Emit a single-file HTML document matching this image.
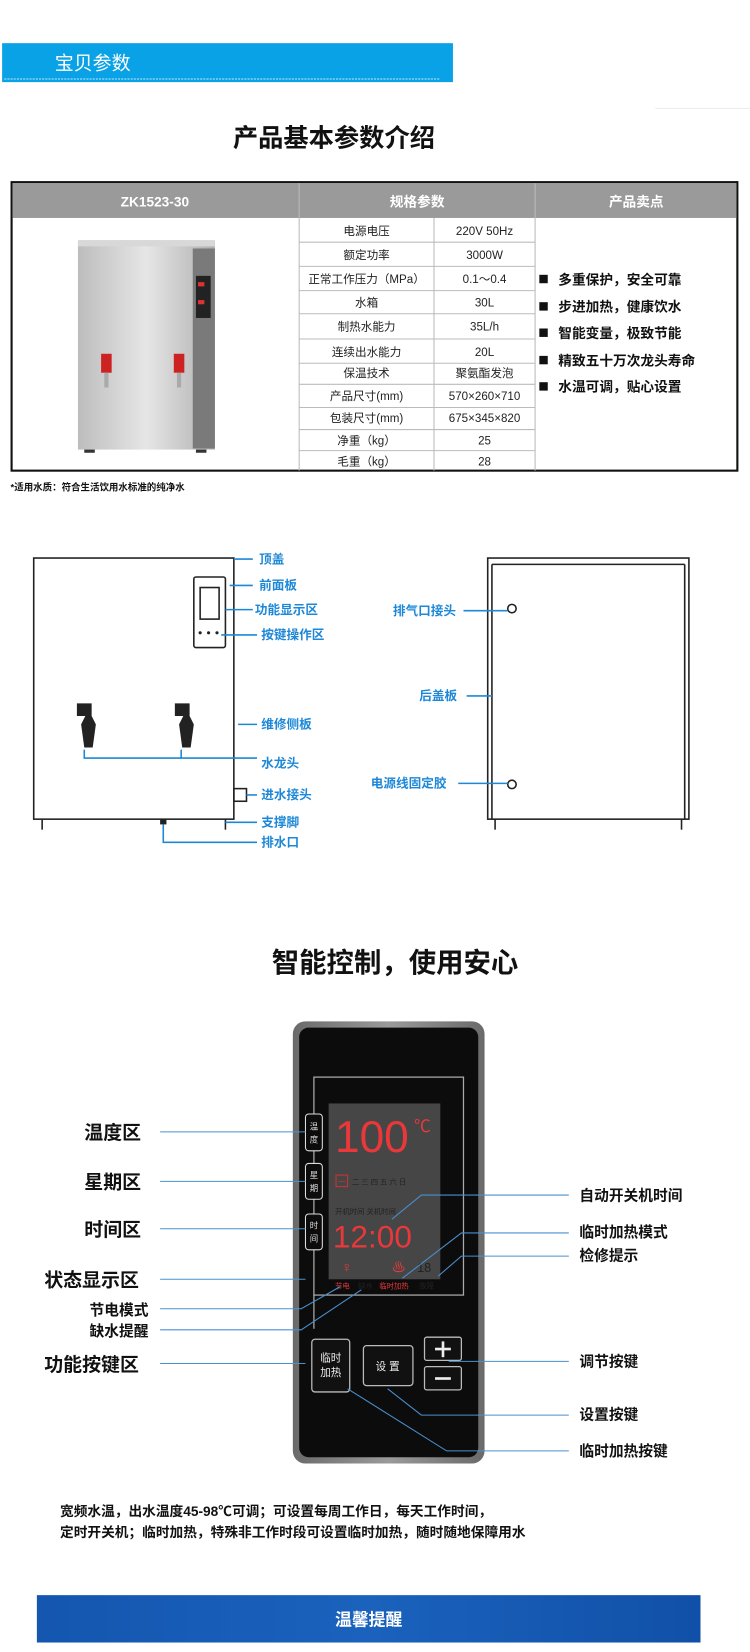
<!DOCTYPE html>
<html><head><meta charset="utf-8"><style>
html,body{margin:0;padding:0;background:#fff;}
svg{display:block;}
text{font-family:"Liberation Sans","Noto Sans CJK SC",sans-serif;}
</style></head><body>
<svg width="750" height="1652" viewBox="0 0 712 1569" preserveAspectRatio="none" xmlns="http://www.w3.org/2000/svg">
<defs>
<linearGradient id="silver" x1="0" x2="1" y1="0" y2="0"><stop offset="0" stop-color="#bdbdbd"/><stop offset="0.5" stop-color="#e6e6e6"/><stop offset="1" stop-color="#b0b0b0"/></linearGradient>
<linearGradient id="bar" x1="0" x2="1"><stop offset="0" stop-color="#1456b0"/><stop offset="0.5" stop-color="#1a62bd"/><stop offset="1" stop-color="#1150a8"/></linearGradient>
<linearGradient id="bezel" x1="0" x2="1"><stop offset="0" stop-color="#6a6a6a"/><stop offset="0.5" stop-color="#9a9a9a"/><stop offset="1" stop-color="#6a6a6a"/></linearGradient>
</defs>
<!-- header -->
<rect x="2" y="41" width="428" height="37" fill="#0aa2e6"/>
<line x1="4" y1="75" x2="418" y2="75" stroke="#bfe6f8" stroke-width="1" stroke-dasharray="2,1"/>
<text x="52" y="66" font-size="18" fill="#fff">宝贝参数</text>
<line x1="622" y1="103" x2="712" y2="103" stroke="#eee"/>
<text x="317" y="139" font-size="24" font-weight="bold" text-anchor="middle" fill="#111">产品基本参数介绍</text>
<!-- table -->
<rect x="11" y="173" width="689" height="274" fill="#fff" stroke="#111" stroke-width="2"/>
<rect x="12" y="174" width="687" height="33" fill="#9a9a9a"/>
<g stroke="#bbb" stroke-width="1">
<line x1="284" y1="174" x2="284" y2="447"/><line x1="508" y1="174" x2="508" y2="447"/>
<line x1="412" y1="207" x2="412" y2="447"/>
<line x1="284" y1="230" x2="508" y2="230"/><line x1="284" y1="253" x2="508" y2="253"/>
<line x1="284" y1="276" x2="508" y2="276"/><line x1="284" y1="298" x2="508" y2="298"/>
<line x1="284" y1="322" x2="508" y2="322"/><line x1="284" y1="345" x2="508" y2="345"/>
<line x1="284" y1="365" x2="508" y2="365"/><line x1="284" y1="387" x2="508" y2="387"/>
<line x1="284" y1="408" x2="508" y2="408"/><line x1="284" y1="428" x2="508" y2="428"/>
</g>
<g font-size="13" font-weight="bold" fill="#fff" text-anchor="middle">
<text x="147" y="196">ZK1523-30</text><text x="396" y="196">规格参数</text><text x="604" y="196">产品卖点</text></g>
<g font-size="11" fill="#222" text-anchor="middle">
<text x="348" y="223">电源电压</text><text x="460" y="223">220V 50Hz</text>
<text x="348" y="246">额定功率</text><text x="460" y="246">3000W</text>
<text x="348" y="269">正常工作压力（MPa）</text><text x="460" y="269">0.1～0.4</text>
<text x="348" y="291">水箱</text><text x="460" y="291">30L</text>
<text x="348" y="314">制热水能力</text><text x="460" y="314">35L/h</text>
<text x="348" y="338">连续出水能力</text><text x="460" y="338">20L</text>
<text x="348" y="358">保温技术</text><text x="460" y="358">聚氨酯发泡</text>
<text x="348" y="380">产品尺寸(mm)</text><text x="460" y="380">570×260×710</text>
<text x="348" y="401">包装尺寸(mm)</text><text x="460" y="401">675×345×820</text>
<text x="348" y="422">净重（kg）</text><text x="460" y="422">25</text>
<text x="348" y="442">毛重（kg）</text><text x="460" y="442">28</text>
</g>
<g font-size="13" font-weight="bold" fill="#111">
<rect x="512" y="261" width="8" height="8" fill="#111"/><text x="530" y="270">多重保护，安全可靠</text>
<rect x="512" y="287" width="8" height="8" fill="#111"/><text x="530" y="296">步进加热，健康饮水</text>
<rect x="512" y="312" width="8" height="8" fill="#111"/><text x="530" y="321">智能变量，极致节能</text>
<rect x="512" y="338" width="8" height="8" fill="#111"/><text x="530" y="347">精致五十万次龙头寿命</text>
<rect x="512" y="363" width="8" height="8" fill="#111"/><text x="530" y="372">水温可调，贴心设置</text>
</g>
<!-- product photo -->
<rect x="74" y="230" width="130" height="197" fill="url(#silver)"/>
<rect x="74" y="228" width="130" height="6" fill="#d8d8d8"/>
<rect x="183" y="236" width="21" height="190" fill="#7a7a7a"/>
<rect x="186" y="262" width="14" height="40" fill="#222"/>
<rect x="188" y="268" width="6" height="4" fill="#d33"/><rect x="188" y="285" width="6" height="4" fill="#d33"/>
<rect x="96" y="336" width="10" height="18" fill="#c22"/><rect x="99" y="354" width="4" height="14" fill="#aaa"/>
<rect x="165" y="336" width="10" height="18" fill="#c22"/><rect x="168" y="354" width="4" height="14" fill="#aaa"/>
<rect x="80" y="427" width="10" height="3" fill="#333"/><rect x="186" y="427" width="10" height="3" fill="#333"/>
<text x="10" y="466" font-size="9" font-weight="bold" fill="#111">*适用水质：符合生活饮用水标准的纯净水</text>
<!-- line drawings -->
<g fill="none" stroke="#222" stroke-width="1.5">
<rect x="32" y="530" width="190" height="248"/>
<rect x="184" y="548" width="30" height="67" rx="2"/><rect x="190" y="558" width="18" height="30"/>
<rect x="222" y="749" width="12" height="12"/>
<line x1="40" y1="778" x2="40" y2="788"/><line x1="214" y1="778" x2="214" y2="788"/>
<rect x="463" y="530" width="191" height="248"/><line x1="467" y1="536" x2="650" y2="536"/>
<line x1="467" y1="536" x2="467" y2="778"/><line x1="650" y1="536" x2="650" y2="778"/>
<circle cx="486" cy="578" r="4"/><circle cx="486" cy="745" r="4"/>
<line x1="470" y1="778" x2="470" y2="788"/><line x1="647" y1="778" x2="647" y2="788"/>
</g>
<g fill="#222"><circle cx="190" cy="601" r="1.5"/><circle cx="198" cy="601" r="1.5"/><circle cx="206" cy="601" r="1.5"/>
<path d="M73 668h14v12l4 8-3 22h-8l-3-22 4-8h-8z"/><path d="M166 668h14v12l4 8-3 22h-8l-3-22 4-8h-8z"/>
<rect x="152" y="778" width="6" height="5"/></g>
<g stroke="#1e88d8" stroke-width="1.5" fill="none">
<line x1="222" y1="531" x2="240" y2="531"/><line x1="218" y1="556" x2="240" y2="556"/>
<line x1="214" y1="579" x2="240" y2="579"/><line x1="210" y1="603" x2="244" y2="603"/>
<line x1="226" y1="688" x2="244" y2="688"/>
<polyline points="80,712 80,720 172,720"/><polyline points="172,712 172,720 244,720"/>
<line x1="234" y1="755" x2="244" y2="755"/><line x1="214" y1="781" x2="244" y2="781"/>
<polyline points="155,783 155,800 244,800"/>
<line x1="440" y1="580" x2="482" y2="580"/><line x1="443" y1="661" x2="467" y2="661"/>
<line x1="435" y1="744" x2="482" y2="744"/>
</g>
<g font-size="12" font-weight="bold" fill="#1e88d8">
<text x="246" y="535">顶盖</text><text x="246" y="560">前面板</text><text x="242" y="583">功能显示区</text>
<text x="248" y="607">按键操作区</text><text x="248" y="692">维修侧板</text><text x="248" y="729">水龙头</text>
<text x="248" y="759">进水接头</text><text x="248" y="785">支撑脚</text><text x="248" y="804">排水口</text>
<text x="373" y="584">排气口接头</text><text x="398" y="665">后盖板</text><text x="352" y="748">电源线固定胶</text>
</g>
<text x="375" y="923" font-size="26" font-weight="bold" text-anchor="middle" fill="#111">智能控制，使用安心</text>
<!-- control panel -->
<rect x="278" y="970" width="182" height="420" rx="12" fill="url(#bezel)"/>
<rect x="284" y="976" width="170" height="408" rx="9" fill="#0c0c0c"/>
<rect x="298" y="1023" width="142" height="207" fill="none" stroke="#aaa" stroke-width="1.2"/>
<line x1="298" y1="1230" x2="298" y2="1262" stroke="#aaa" stroke-width="1.2"/>
<rect x="312" y="1048" width="106" height="167" fill="#464646"/>
<g fill="#0c0c0c" stroke="#ddd" stroke-width="1">
<rect x="290" y="1058" width="16" height="35" rx="3"/><rect x="290" y="1105" width="16" height="34" rx="3"/><rect x="290" y="1153" width="16" height="34" rx="3"/></g>
<g font-size="8" fill="#ddd" text-anchor="middle">
<text x="298" y="1073">温</text><text x="298" y="1085">度</text>
<text x="298" y="1119">星</text><text x="298" y="1131">期</text>
<text x="298" y="1167">时</text><text x="298" y="1179">间</text></g>
<text x="318" y="1094" font-size="42" fill="#e8383a" font-family="Liberation Mono,monospace">100</text>
<text x="393" y="1075" font-size="16" fill="#e8383a">℃</text>
<g font-size="7" fill="#222"><rect x="319" y="1116" width="11" height="11" fill="none" stroke="#c33"/><text x="321" y="1125" fill="#c33">一</text>
<text x="334" y="1125">二 三 四 五 六 日</text></g>
<text x="318" y="1153" font-size="7" fill="#222">开机时间 关机时间</text>
<text x="316" y="1185" font-size="30" fill="#e8383a" font-family="Liberation Mono,monospace">12:00</text>
<text x="324" y="1208" font-size="14" fill="#e8383a">♀</text><text x="372" y="1208" font-size="13" fill="#e8383a">♨</text>
<text x="396" y="1208" font-size="12" fill="#222">18</text>
<g font-size="7"><text x="318" y="1224" fill="#e8383a">节电</text><text x="340" y="1224" fill="#222">缺水</text><text x="360" y="1224" fill="#e8383a">临时加热</text><text x="398" y="1224" fill="#222">故障</text></g>
<g fill="#111" stroke="#bbb" stroke-width="1.2">
<rect x="296" y="1272" width="36" height="50" rx="3"/><rect x="345" y="1278" width="47" height="38" rx="3"/>
<rect x="403" y="1270" width="35" height="22" rx="2"/><rect x="403" y="1298" width="35" height="22" rx="2"/></g>
<g fill="#eee"><text x="314" y="1293" font-size="10" text-anchor="middle">临时</text><text x="314" y="1307" font-size="10" text-anchor="middle">加热</text>
<text x="368" y="1301" font-size="10" text-anchor="middle">设 置</text>
<rect x="413" y="1280" width="15" height="2.5"/><rect x="419.3" y="1274" width="2.5" height="15"/><rect x="413" y="1308" width="15" height="2.5"/></g>
<g stroke="#4a90d0" stroke-width="1" fill="none">
<line x1="152" y1="1075" x2="290" y2="1075"/><line x1="152" y1="1122" x2="290" y2="1122"/>
<line x1="152" y1="1167" x2="290" y2="1167"/><line x1="152" y1="1215" x2="290" y2="1215"/>
<polyline points="152,1243 286,1243 323,1222"/><polyline points="152,1263 286,1263 343,1225"/>
<line x1="152" y1="1295" x2="290" y2="1295"/>
<polyline points="540,1135 400,1135 372,1158"/><polyline points="540,1171 438,1171 382,1214"/>
<polyline points="540,1193 438,1193 416,1212"/><line x1="540" y1="1293" x2="426" y2="1293"/>
<polyline points="540,1344 400,1344 368,1319"/><polyline points="540,1378 424,1378 330,1319"/>
</g>
<g font-weight="bold" fill="#111">
<text x="80" y="1082" font-size="18">温度区</text><text x="80" y="1129" font-size="18">星期区</text>
<text x="80" y="1174" font-size="18">时间区</text><text x="42" y="1222" font-size="18">状态显示区</text>
<text x="85" y="1249" font-size="14">节电模式</text><text x="85" y="1269" font-size="14">缺水提醒</text>
<text x="42" y="1302" font-size="18">功能按键区</text>
<text x="550" y="1140" font-size="14">自动开关机时间</text><text x="550" y="1175" font-size="14">临时加热模式</text>
<text x="550" y="1197" font-size="14">检修提示</text><text x="550" y="1298" font-size="14">调节按键</text>
<text x="550" y="1348" font-size="14">设置按键</text><text x="550" y="1383" font-size="14">临时加热按键</text>
<text x="57" y="1440" font-size="13">宽频水温，出水温度45-98℃可调；可设置每周工作日，每天工作时间，</text>
<text x="57" y="1460" font-size="13">定时开关机；临时加热，特殊非工作时段可设置临时加热，随时随地保障用水</text>
</g>
<rect x="35" y="1515" width="630" height="45" fill="url(#bar)"/>
<text x="350" y="1544" font-size="16" font-weight="bold" fill="#fff" text-anchor="middle">温馨提醒</text>
</svg>
</body></html>
